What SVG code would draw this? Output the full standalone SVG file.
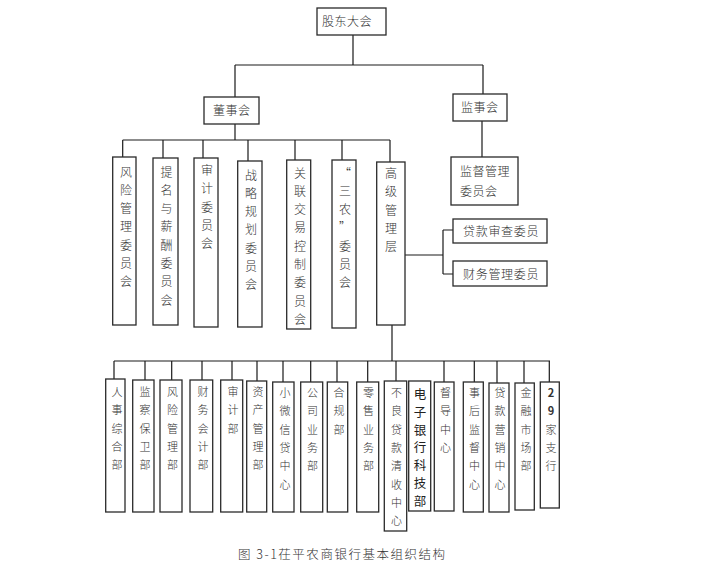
<svg xmlns="http://www.w3.org/2000/svg" width="721" height="568" viewBox="0 0 721 568">
<style>
.b{fill:#fff;stroke:#2a2a2a;stroke-width:1.3}
.c{stroke:#1a1a1a;stroke-width:1.2;fill:none}
text{font-family:"Noto Sans CJK SC","Noto Sans",sans-serif;fill:#333;font-weight:300}
.h{font-size:12px;letter-spacing:0.5px}
.v{font-size:12px;text-anchor:middle}
.s{font-size:11px;text-anchor:middle}
.e{font-size:12.5px;text-anchor:middle;font-weight:400;fill:#222}
.cap{font-size:12.5px}
</style>
<rect width="721" height="568" fill="#fff"/>
<g id="connectors" class="c">
<path d="M353 35V65M235 65H483M235 65V97M483 65V94"/>
<path d="M482 121V157"/>
<path d="M235 124V140M122.7 140H390M122.7 140V157M163 140V158M203 140V158M248 140V161M295 140V160M342 140V160M390 140V162"/>
<path d="M405 255H443M443 230V274M443 230H453M443 274H453"/>
<path d="M392 325V361M114 361H550"/>
<path d="M114 361V379M145 361V380M171.7 361V380M202 361V380M232 361V380M257 361V381M283 361V382M310.7 361V382M337 361V382M367.7 361V382M396 361V381M444 361V382M474.3 361V382M497 361V383M524 361V383M549.3 361V382"/>
</g>
<g id="n-gudong"><rect class="b" x="317" y="8" width="69" height="27"/><text class="h" x="322" y="26">股东大会</text></g>
<g id="n-dongshi"><rect class="b" x="204" y="97" width="55" height="27"/><text class="h" x="213" y="115">董事会</text></g>
<g id="n-jianshi"><rect class="b" x="453" y="94" width="54" height="27"/><text class="h" x="461" y="112">监事会</text></g>
<g id="n-jdgl"><rect class="b" x="451" y="157" width="67" height="48"/><text class="h" x="460" y="176">监督管理</text><text class="h" x="460" y="196">委员会</text></g>
<g id="n-dksc"><rect class="b" x="453" y="219" width="94" height="24"/><text class="h" x="463" y="236" textLength="76">贷款审查委员</text></g>
<g id="n-cwgl"><rect class="b" x="453" y="261" width="94" height="25"/><text class="h" x="463" y="279" textLength="76">财务管理委员</text></g>
<g id="n-fx"><rect class="b" x="112.7" y="157" width="23.3" height="168"/><text class="v" x="126"><tspan x="126" y="176.5">风</tspan><tspan x="126" dy="18.3">险</tspan><tspan x="126" dy="18.3">管</tspan><tspan x="126" dy="18.3">理</tspan><tspan x="126" dy="18.3">委</tspan><tspan x="126" dy="18.3">员</tspan><tspan x="126" dy="18.3">会</tspan></text></g>
<g id="n-tm"><rect class="b" x="153" y="158" width="25" height="167"/><text class="v"><tspan x="166.5" y="176.5">提</tspan><tspan x="166.5" dy="18.3">名</tspan><tspan x="166.5" dy="18.3">与</tspan><tspan x="166.5" dy="18.3">薪</tspan><tspan x="166.5" dy="18.3">酬</tspan><tspan x="166.5" dy="18.3">委</tspan><tspan x="166.5" dy="18.3">员</tspan><tspan x="166.5" dy="18.3">会</tspan></text></g>
<g id="n-sj"><rect class="b" x="194" y="158" width="24" height="169"/><text class="v"><tspan x="207" y="175">审</tspan><tspan x="207" dy="18.3">计</tspan><tspan x="207" dy="18.3">委</tspan><tspan x="207" dy="18.3">员</tspan><tspan x="207" dy="18.3">会</tspan></text></g>
<g id="n-zl"><rect class="b" x="237.7" y="161" width="24.3" height="166"/><text class="v"><tspan x="251" y="179.5">战</tspan><tspan x="251" dy="18.3">略</tspan><tspan x="251" dy="18.3">规</tspan><tspan x="251" dy="18.3">划</tspan><tspan x="251" dy="18.3">委</tspan><tspan x="251" dy="18.3">员</tspan><tspan x="251" dy="18.3">会</tspan></text></g>
<g id="n-gl"><rect class="b" x="286.7" y="160" width="24" height="169"/><text class="v"><tspan x="300" y="177.5">关</tspan><tspan x="300" dy="18.3">联</tspan><tspan x="300" dy="18.3">交</tspan><tspan x="300" dy="18.3">易</tspan><tspan x="300" dy="18.3">控</tspan><tspan x="300" dy="18.3">制</tspan><tspan x="300" dy="18.3">委</tspan><tspan x="300" dy="18.3">员</tspan><tspan x="300" dy="18.3">会</tspan></text></g>
<g id="n-sn"><rect class="b" x="332" y="160" width="24" height="168"/><text class="v"><tspan x="345" y="177.5">“</tspan><tspan x="345" dy="18.3">三</tspan><tspan x="345" dy="18.3">农</tspan><tspan x="345" dy="18.3">”</tspan><tspan x="345" dy="18.3">委</tspan><tspan x="345" dy="18.3">员</tspan><tspan x="345" dy="18.3">会</tspan></text></g>
<g id="n-gj"><rect class="b" x="376.7" y="162" width="28.3" height="163"/><text class="v"><tspan x="391" y="178">高</tspan><tspan x="391" dy="18.3">级</tspan><tspan x="391" dy="18.3">管</tspan><tspan x="391" dy="18.3">理</tspan><tspan x="391" dy="18.3">层</tspan></text></g>
<g id="d-rs"><rect class="b" x="105.7" y="379" width="19.3" height="133"/><text class="s"><tspan x="117" y="396">人</tspan><tspan x="117" dy="18.3">事</tspan><tspan x="117" dy="18.3">综</tspan><tspan x="117" dy="18.3">合</tspan><tspan x="117" dy="18.3">部</tspan></text></g>
<g id="d-jc"><rect class="b" x="132.7" y="380" width="21.3" height="132"/><text class="s"><tspan x="145" y="396">监</tspan><tspan x="145" dy="18.3">察</tspan><tspan x="145" dy="18.3">保</tspan><tspan x="145" dy="18.3">卫</tspan><tspan x="145" dy="18.3">部</tspan></text></g>
<g id="d-fx"><rect class="b" x="160" y="380" width="22" height="132"/><text class="s"><tspan x="172.5" y="396">风</tspan><tspan x="172.5" dy="18.3">险</tspan><tspan x="172.5" dy="18.3">管</tspan><tspan x="172.5" dy="18.3">理</tspan><tspan x="172.5" dy="18.3">部</tspan></text></g>
<g id="d-cw"><rect class="b" x="190" y="380" width="22.7" height="132"/><text class="s"><tspan x="203" y="396">财</tspan><tspan x="203" dy="18.3">务</tspan><tspan x="203" dy="18.3">会</tspan><tspan x="203" dy="18.3">计</tspan><tspan x="203" dy="18.3">部</tspan></text></g>
<g id="d-sj"><rect class="b" x="220.7" y="380" width="22" height="132"/><text class="s"><tspan x="233" y="396">审</tspan><tspan x="233" dy="18.3">计</tspan><tspan x="233" dy="18.3">部</tspan></text></g>
<g id="d-zc"><rect class="b" x="246.7" y="381" width="20" height="131"/><text class="s"><tspan x="258" y="396">资</tspan><tspan x="258" dy="18.3">产</tspan><tspan x="258" dy="18.3">管</tspan><tspan x="258" dy="18.3">理</tspan><tspan x="258" dy="18.3">部</tspan></text></g>
<g id="d-xw"><rect class="b" x="272.7" y="382" width="21.3" height="130"/><text class="s"><tspan x="285" y="397">小</tspan><tspan x="285" dy="18.3">微</tspan><tspan x="285" dy="18.3">信</tspan><tspan x="285" dy="18.3">贷</tspan><tspan x="285" dy="18.3">中</tspan><tspan x="285" dy="18.3">心</tspan></text></g>
<g id="d-gs"><rect class="b" x="300.7" y="382" width="22" height="130"/><text class="s"><tspan x="312.5" y="397">公</tspan><tspan x="312.5" dy="18.3">司</tspan><tspan x="312.5" dy="18.3">业</tspan><tspan x="312.5" dy="18.3">务</tspan><tspan x="312.5" dy="18.3">部</tspan></text></g>
<g id="d-hg"><rect class="b" x="327.3" y="382" width="20.4" height="130"/><text class="s"><tspan x="339" y="397">合</tspan><tspan x="339" dy="18.3">规</tspan><tspan x="339" dy="18.3">部</tspan></text></g>
<g id="d-ls"><rect class="b" x="356.7" y="382" width="22" height="130"/><text class="s"><tspan x="368.5" y="397">零</tspan><tspan x="368.5" dy="18.3">售</tspan><tspan x="368.5" dy="18.3">业</tspan><tspan x="368.5" dy="18.3">务</tspan><tspan x="368.5" dy="18.3">部</tspan></text></g>
<g id="d-bl"><rect class="b" x="384.3" y="381" width="22.4" height="150"/><text class="s"><tspan x="396.5" y="397">不</tspan><tspan x="396.5" dy="18.3">良</tspan><tspan x="396.5" dy="18.3">贷</tspan><tspan x="396.5" dy="18.3">款</tspan><tspan x="396.5" dy="18.3">清</tspan><tspan x="396.5" dy="18.3">收</tspan><tspan x="396.5" dy="18.3">中</tspan><tspan x="396.5" dy="18.3">心</tspan></text></g>
<g id="d-dz"><rect class="b" x="408.7" y="381" width="22" height="130"/><text class="e"><tspan x="420" y="399">电</tspan><tspan x="420" dy="17.8">子</tspan><tspan x="420" dy="17.8">银</tspan><tspan x="420" dy="17.8">行</tspan><tspan x="420" dy="17.8">科</tspan><tspan x="420" dy="17.8">技</tspan><tspan x="420" dy="17.8">部</tspan></text></g>
<g id="d-dd"><rect class="b" x="434.3" y="382" width="19.7" height="129"/><text class="s"><tspan x="445.5" y="397">督</tspan><tspan x="445.5" dy="18.3">导</tspan><tspan x="445.5" dy="18.3">中</tspan><tspan x="445.5" dy="18.3">心</tspan></text></g>
<g id="d-sh"><rect class="b" x="463.3" y="382" width="20" height="130"/><text class="s"><tspan x="474.5" y="397">事</tspan><tspan x="474.5" dy="18.3">后</tspan><tspan x="474.5" dy="18.3">监</tspan><tspan x="474.5" dy="18.3">督</tspan><tspan x="474.5" dy="18.3">中</tspan><tspan x="474.5" dy="18.3">心</tspan></text></g>
<g id="d-dk"><rect class="b" x="489" y="383" width="20" height="129"/><text class="s"><tspan x="500" y="397">贷</tspan><tspan x="500" dy="18.3">款</tspan><tspan x="500" dy="18.3">营</tspan><tspan x="500" dy="18.3">销</tspan><tspan x="500" dy="18.3">中</tspan><tspan x="500" dy="18.3">心</tspan></text></g>
<g id="d-jr"><rect class="b" x="515" y="383" width="19.3" height="127"/><text class="s"><tspan x="526" y="397">金</tspan><tspan x="526" dy="18.3">融</tspan><tspan x="526" dy="18.3">市</tspan><tspan x="526" dy="18.3">场</tspan><tspan x="526" dy="18.3">部</tspan></text></g>
<g id="d-zh"><rect class="b" x="540.3" y="382" width="19" height="126"/><text class="s"><tspan x="551" y="397" font-weight="700">2</tspan><tspan x="551" dy="18.3" font-weight="700">9</tspan><tspan x="551" dy="18.3">家</tspan><tspan x="551" dy="18.3">支</tspan><tspan x="551" dy="18.3">行</tspan></text></g>
<text class="cap" x="238" y="559" textLength="207">图 3-1茌平农商银行基本组织结构</text>
</svg>
